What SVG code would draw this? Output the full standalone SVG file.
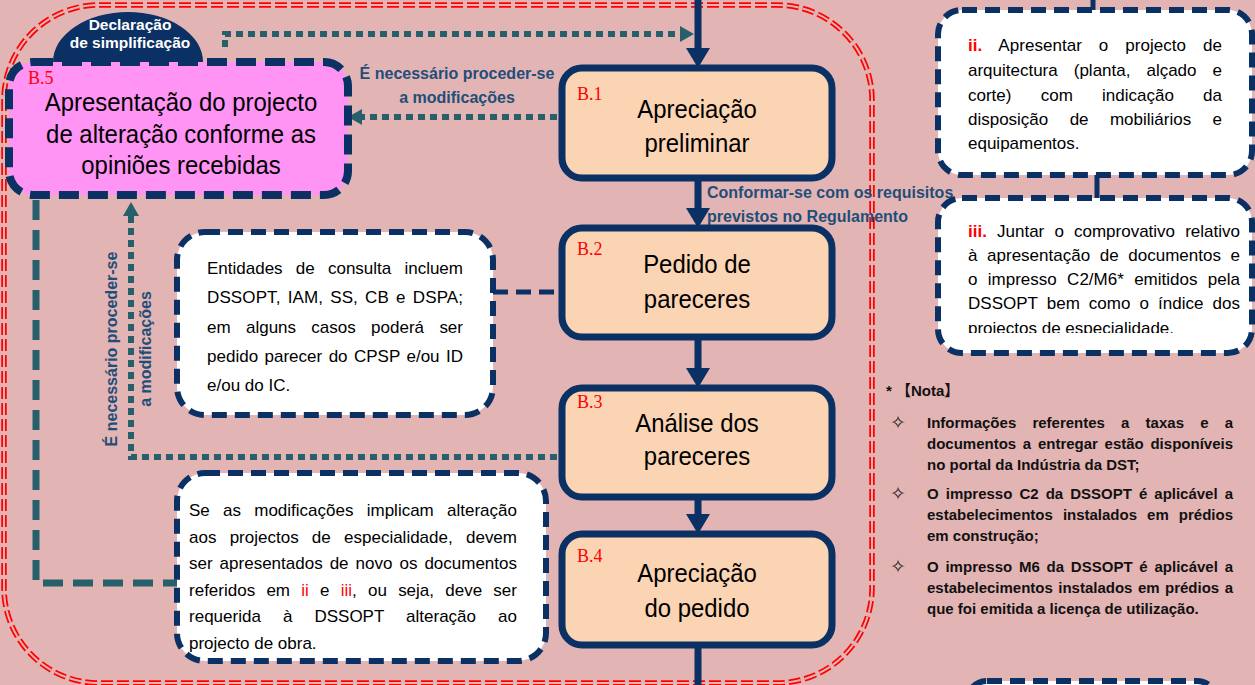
<svg xmlns="http://www.w3.org/2000/svg" width="1255" height="685" viewBox="0 0 1255 685">
<style>
.navy{fill:none;stroke:#0B3063;stroke-width:7}
.box{fill:#FBD4B4;stroke:#0B3063;stroke-width:7}
.wbox{fill:#FFFFFF;stroke:#0B3063;stroke-width:6;stroke-dasharray:15 8}
.dot{fill:none;stroke:#27606A;stroke-width:6;stroke-dasharray:7 5}
.big{font-family:"Liberation Sans",Arial,sans-serif;font-size:26px;fill:#000;text-anchor:middle}
.lab{font-family:"Liberation Serif","Times New Roman",serif;font-size:18px;fill:#FF0000}
.t{font-family:"Liberation Sans",Arial,sans-serif;font-size:17px;fill:#000}
.n{font-family:"Liberation Sans","Noto Sans CJK SC",Arial,sans-serif;font-size:15px;font-weight:bold;fill:#111}
.lb{font-family:"Liberation Sans",Arial,sans-serif;font-size:16px;font-weight:bold;fill:#1F4E78}
.red{fill:#FF0000}
.star{font-family:"DejaVu Sans",sans-serif;font-size:19px;fill:#222;text-anchor:middle}
</style>
<defs>
<marker id="an" viewBox="0 0 20 24" refX="0" refY="12" markerWidth="20" markerHeight="24" markerUnits="userSpaceOnUse" orient="auto"><path d="M0,0 L20,12 L0,24 Z" fill="#0B3063"/></marker>
<marker id="at" viewBox="0 0 14 16" refX="0" refY="8" markerWidth="14" markerHeight="16" markerUnits="userSpaceOnUse" orient="auto"><path d="M0,0 L14,8 L0,16 Z" fill="#27606A"/></marker>
<clipPath id="c3"><rect x="940" y="200" width="312" height="133"/></clipPath>
</defs>
<rect width="1255" height="685" fill="#E3B4B4"/>
<g id="border">
<rect x="4" y="5" width="868" height="678" rx="95" fill="none" stroke="#FF0000" stroke-width="5.5" stroke-dasharray="12 4"/>
<rect x="4" y="5" width="868" height="678" rx="95" fill="none" stroke="#E3B4B4" stroke-width="2" stroke-dasharray="12 4"/>
</g>
<g id="connectors">
<path class="navy" d="M698,0 V48" marker-end="url(#an)"/>
<path class="navy" d="M698,178 V208" marker-end="url(#an)"/>
<path class="navy" d="M698,337 V368" marker-end="url(#an)"/>
<path class="navy" d="M698,497 V514" marker-end="url(#an)"/>
<path class="navy" d="M698,645 V685"/>
<path d="M1093,0 V12" stroke="#0B3063" stroke-width="5"/>
<path d="M1097,175 V198" stroke="#0B3063" stroke-width="5"/>
<path d="M493,292 H562" stroke="#0B3063" stroke-width="5" stroke-dasharray="15 8" fill="none"/>
<path d="M36,200 V583 H177" fill="none" stroke="#27606A" stroke-width="7" stroke-dasharray="20 10"/>
<path class="dot" d="M225,47 V34 H680" marker-end="url(#at)"/>
<path class="dot" d="M557,117 H362" marker-end="url(#at)"/>
<path class="dot" d="M557,457 H131 V216" marker-end="url(#at)"/>
<text class="lb" x="457" y="79" text-anchor="middle">É necessário proceder-se</text>
<text class="lb" x="457" y="103" text-anchor="middle">a modificações</text>
<text class="lb" x="707" y="198">Conformar-se com os requisitos</text>
<text class="lb" x="707" y="222">previstos no Regulamento</text>
<text class="lb" transform="translate(117,349) rotate(-90)" text-anchor="middle">É necessário proceder-se</text>
<text class="lb" transform="translate(151,349) rotate(-90)" text-anchor="middle">a modificações</text>
</g>
<g id="decl">
<ellipse cx="128" cy="62" rx="75" ry="50" fill="#0B3063"/>
<text x="130" y="30" text-anchor="middle" font-family="Liberation Sans,Arial,sans-serif" font-size="15.5" font-weight="bold" fill="#FFFFFF">Declaração</text>
<text x="130" y="48" text-anchor="middle" font-family="Liberation Sans,Arial,sans-serif" font-size="15.5" font-weight="bold" fill="#FFFFFF">de simplificação</text>
</g>
<g id="b5">
<rect x="9" y="62" width="339" height="133" rx="24" fill="#FF94F5" stroke="#0B3063" stroke-width="8" stroke-dasharray="20 9"/>
<text class="lab" x="28" y="84" font-size="21">B.5</text>
<g transform="translate(181,0) scale(0.92,1)">
<text class="big" x="0" y="111">Apresentação do projecto</text>
<text class="big" x="0" y="143">de alteração conforme as</text>
<text class="big" x="0" y="174">opiniões recebidas</text>
</g>
</g>
<g id="b1">
<rect class="box" x="562" y="68" width="270" height="110" rx="20"/>
<text class="lab" x="577" y="100">B.1</text>
<g transform="translate(697,0) scale(0.92,1)"><text class="big" x="0" y="118">Apreciação</text><text class="big" x="0" y="152">preliminar</text></g>
</g>
<g id="b2">
<rect class="box" x="562" y="228" width="270" height="109" rx="20"/>
<text class="lab" x="577" y="255">B.2</text>
<g transform="translate(697,0) scale(0.92,1)"><text class="big" x="0" y="273">Pedido de</text><text class="big" x="0" y="308">pareceres</text></g>
</g>
<g id="b3">
<rect class="box" x="562" y="388" width="270" height="109" rx="20"/>
<text class="lab" x="577" y="408">B.3</text>
<g transform="translate(697,0) scale(0.92,1)"><text class="big" x="0" y="432">Análise dos</text><text class="big" x="0" y="465">pareceres</text></g>
</g>
<g id="b4">
<rect class="box" x="562" y="534" width="270" height="111" rx="20"/>
<text class="lab" x="577" y="562">B.4</text>
<g transform="translate(697,0) scale(0.92,1)"><text class="big" x="0" y="582">Apreciação</text><text class="big" x="0" y="617">do pedido</text></g>
</g>
<g id="entidades">
<rect class="wbox" x="177" y="232" width="316" height="183" rx="28"/>
<text class="t" x="207" y="274" word-spacing="8.5" textLength="256" lengthAdjust="spacing">Entidades de consulta incluem</text>
<text class="t" x="207" y="303" word-spacing="2.3" textLength="256" lengthAdjust="spacing">DSSOPT, IAM, SS, CB e DSPA;</text>
<text class="t" x="207" y="333" word-spacing="10.6" textLength="256" lengthAdjust="spacing">em alguns casos poderá ser</text>
<text class="t" x="207" y="362" word-spacing="1.7" textLength="256" lengthAdjust="spacing">pedido parecer do CPSP e/ou ID</text>
<text class="t" x="207" y="391">e/ou do IC.</text>
</g>
<g id="modif">
<rect class="wbox" x="177" y="473" width="369" height="188" rx="28"/>
<text class="t" x="189" y="516" word-spacing="8.5" textLength="328" lengthAdjust="spacing">Se as modificações implicam alteração</text>
<text class="t" x="189" y="543" word-spacing="8.5" textLength="328" lengthAdjust="spacing">aos projectos de especialidade, devem</text>
<text class="t" x="189" y="569" word-spacing="2.3" textLength="328" lengthAdjust="spacing">ser apresentados de novo os documentos</text>
<text class="t" x="189" y="596" word-spacing="6.5" textLength="328" lengthAdjust="spacing">referidos em <tspan class="red">ii</tspan> e <tspan class="red">iii</tspan>, ou seja, deve ser</text>
<text class="t" x="189" y="622" word-spacing="17.3" textLength="328" lengthAdjust="spacing">requerida à DSSOPT alteração ao</text>
<text class="t" x="189" y="649">projecto de obra.</text>
</g>
<g id="ii">
<rect class="wbox" x="938" y="10" width="314" height="165" rx="24"/>
<text class="t" x="968" y="51" word-spacing="12.2" textLength="254" lengthAdjust="spacing"><tspan class="red" font-weight="bold">ii.</tspan> Apresentar o projecto de</text>
<text class="t" x="968" y="76" word-spacing="11.3" textLength="254" lengthAdjust="spacing">arquitectura (planta, alçado e</text>
<text class="t" x="968" y="101" word-spacing="24.5" textLength="254" lengthAdjust="spacing">corte) com indicação da</text>
<text class="t" x="968" y="125" word-spacing="16.7" textLength="254" lengthAdjust="spacing">disposição de mobiliários e</text>
<text class="t" x="968" y="149">equipamentos.</text>
</g>
<g id="iii">
<rect class="wbox" x="938" y="198" width="314" height="155" rx="24"/>
<g clip-path="url(#c3)">
<text class="t" x="968" y="237" word-spacing="5.4" textLength="272" lengthAdjust="spacing"><tspan class="red" font-weight="bold">iii.</tspan> Juntar o comprovativo relativo</text>
<text class="t" x="968" y="261" word-spacing="4.9" textLength="272" lengthAdjust="spacing">à apresentação de documentos e</text>
<text class="t" x="968" y="285" word-spacing="5.6" textLength="272" lengthAdjust="spacing">o impresso C2/M6* emitidos pela</text>
<text class="t" x="968" y="309" word-spacing="4.3" textLength="272" lengthAdjust="spacing">DSSOPT bem como o índice dos</text>
<text class="t" x="968" y="334">projectos de especialidade.</text>
</g>
</g>
<g id="nota">
<text class="n" x="886" y="396">* 【Nota】</text>
<text class="star" x="898" y="429">✧</text>
<text class="star" x="898" y="500">✧</text>
<text class="star" x="898" y="573">✧</text>
<text class="n" x="927" y="428" word-spacing="12" textLength="306" lengthAdjust="spacing">Informações referentes a taxas e a</text>
<text class="n" x="927" y="449" word-spacing="2.5" textLength="306" lengthAdjust="spacing">documentos a entregar estão disponíveis</text>
<text class="n" x="927" y="470">no portal da Indústria da DST;</text>
<text class="n" x="927" y="499" word-spacing="2.9" textLength="306" lengthAdjust="spacing">O impresso C2 da DSSOPT é aplicável a</text>
<text class="n" x="927" y="520" word-spacing="5.9" textLength="306" lengthAdjust="spacing">estabelecimentos instalados em prédios</text>
<text class="n" x="927" y="541">em construção;</text>
<text class="n" x="927" y="572" word-spacing="2.6" textLength="306" lengthAdjust="spacing">O impresso M6 da DSSOPT é aplicável a</text>
<text class="n" x="927" y="593" word-spacing="1.3" textLength="306" lengthAdjust="spacing">estabelecimentos instalados em prédios a</text>
<text class="n" x="927" y="614">que foi emitida a licença de utilização.</text>
</g>
<g id="next">
<rect class="wbox" x="967" y="681" width="250" height="40" rx="20" stroke-width="7"/>
</g>
</svg>
